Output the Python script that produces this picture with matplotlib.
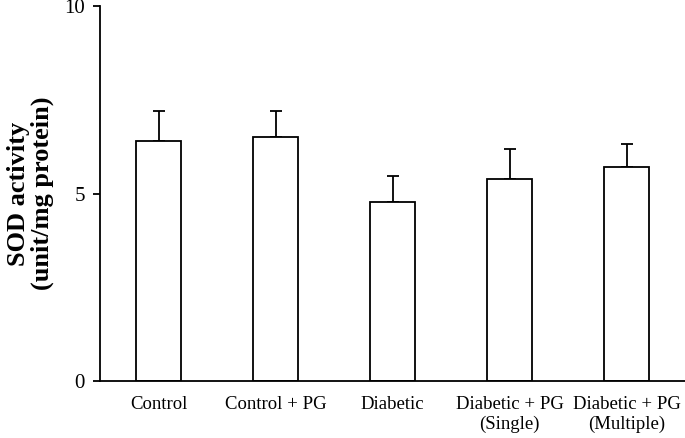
#!/usr/bin/env python3
"""
SOD activity per treatment group, bars with upward-only SEM error bars.
"""
import numpy as np
import matplotlib
matplotlib.use('Agg')
import matplotlib.pyplot as plt

groups = ['Control', 'Control + PG', 'Diabetic', 'Diabetic + PG\n(Single)', 'Diabetic + PG\n(Multiple)']
sod_mean = [6.40, 6.50, 4.78, 5.39, 5.70]
sod_err = [0.80, 0.70, 0.70, 0.79, 0.62]

plt.rcParams['font.family'] = ['Liberation Serif', 'DejaVu Serif']

def main():
    fig = plt.figure(figsize=(6.85, 4.38), dpi=100)
    ax = fig.add_axes([0.146, 0.130, 0.854, 0.856])
    x = np.arange(len(groups))
    ax.bar(x, sod_mean, width=0.39, color='white', edgecolor='black', linewidth=1.3, zorder=2)
    ax.errorbar(x, sod_mean, yerr=[np.zeros(len(sod_err)), sod_err], fmt='none',
                ecolor='black', elinewidth=1.3, capsize=4, capthick=1.3, zorder=1)

    ax.set_xlim(-0.5, 4.5)
    ax.set_ylim(0, 10)
    ax.set_yticks([0, 5, 10])
    ax.set_xticks(x)
    ax.set_xticklabels(groups, fontsize=13.5, linespacing=1.15)
    ax.tick_params(axis='x', length=0, pad=11)
    ax.tick_params(axis='y', length=5, width=1.3, labelsize=15, pad=6)
    for s in ['top', 'right']:
        ax.spines[s].set_visible(False)
    for s in ['left', 'bottom']:
        ax.spines[s].set_linewidth(1.3)

    ax.set_ylabel('SOD activity\n(unit/mg protein)', fontsize=19, fontweight='bold',
                  linespacing=1.05, labelpad=7)

    fig.savefig('out.png', dpi=100)

if __name__ == '__main__':
    main()
